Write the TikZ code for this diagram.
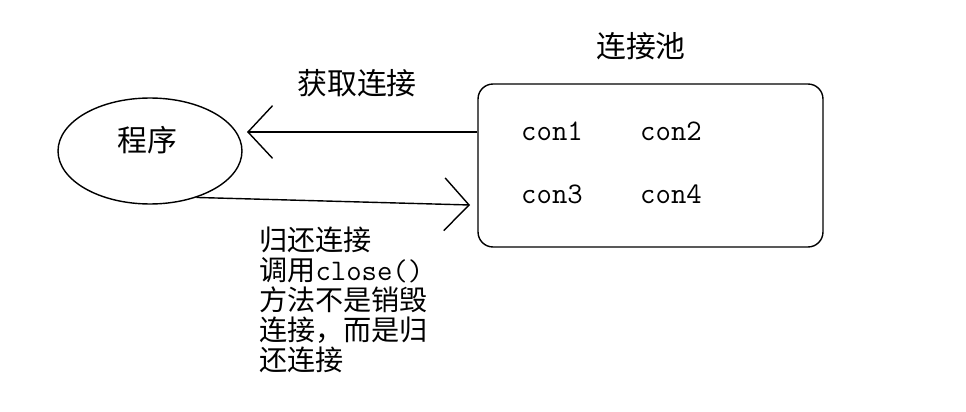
\documentclass[tikz,border=0pt]{standalone}
\usepackage{fontspec}
\setmainfont{Noto Sans CJK SC}
\usetikzlibrary{shapes.geometric,arrows.meta}
\tikzset{
	prog/.style={draw, ellipse, line width=0.8pt, minimum width=3.68cm, minimum height=2.12cm, inner sep=0pt},
	poolbox/.style={draw, rectangle, rounded corners=8.5pt, line width=0.8pt, minimum width=6.9cm, minimum height=3.26cm, inner sep=0pt},
	cjk/.style={font=\fontsize{17}{17}\selectfont, inner sep=0pt},
	contxt/.style={font=\fontsize{17}{17}\ttfamily, inner sep=0pt, anchor=base},
	arr/.style={line width=0.8pt, -{Straight Barb[length=14pt, width=30pt, line width=0.8pt]}}
}
\begin{document}
\begin{tikzpicture}[x=0.02cm, y=-0.02cm]
	\useasboundingbox (0,0) rectangle (966,412);
	\node[prog] (prog) at (150,151) {};
	\node[cjk] (progtext) at (147,140) {程序};
	\node[poolbox] (pool) at (650.5,165.5) {};
	\node[cjk] (pooltext) at (641,46) {连接池};
	\foreach \i/\x/\y in {1/552/140, 2/671/140, 3/552/203, 4/671/203}{
		\node[contxt] (con\i) at (\x,\y) {con\i};
	}
	\coordinate (gettip) at (247,132);
	\coordinate (puttip) at (470,205);
	\draw[arr] (pool.west |- gettip) -- (gettip);
	\draw[arr] (prog.-45) -- (puttip);
	\node[cjk] (gettext) at (357,83) {获取连接};
	\node[cjk, font=\fontsize{16}{17}\selectfont, anchor=north west, align=left] (puttext) at (259,227) {归还连接\\调用\texttt{\fontsize{17}{17}\selectfont close()}\\方法不是销毁\\连接，而是归\\还连接};
\end{tikzpicture}
\end{document}
